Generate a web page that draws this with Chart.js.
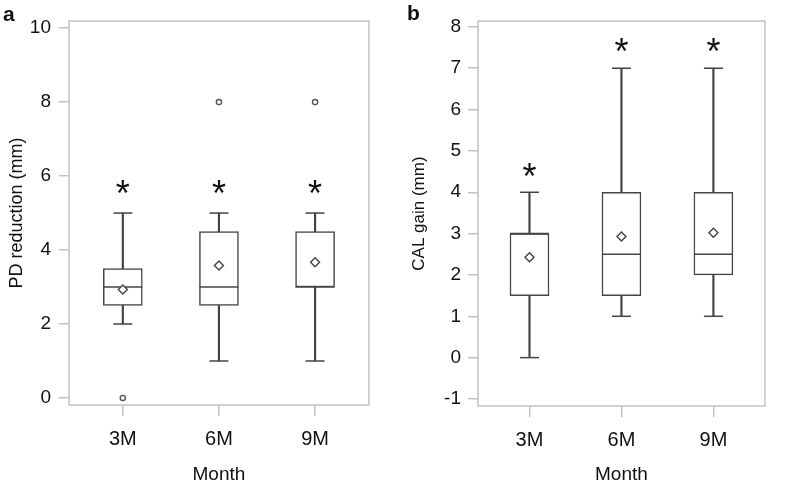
<!DOCTYPE html>
<html>
<head>
<meta charset="utf-8">
<script src="https://cdn.jsdelivr.net/npm/chart.js@4.4.0/dist/chart.umd.min.js"></script>
<style>
  html, body { margin: 0; padding: 0; background: #fff; }
  #wrap { position: relative; width: 786px; height: 484px; overflow: hidden; background: #fff; }
  .panel { position: absolute; top: 0; }
  #ca { left: 0; width: 390px; height: 484px; }
  #cb { left: 390px; width: 396px; height: 484px; }
  .lab { position: absolute; font: bold 21px "Liberation Sans", Arial, sans-serif; color: #111; }
</style>
</head>
<body>
<div id="wrap">
  <div class="panel" id="ca"><canvas id="chartA" width="390" height="484"></canvas></div>
  <div class="panel" id="cb"><canvas id="chartB" width="396" height="484"></canvas></div>
  <div class="lab" style="left:3px;top:2px;">a</div>
  <div class="lab" style="left:407px;top:1px;">b</div>
</div>
<script>
// ---- data ----
const categories = ['3M', '6M', '9M'];
const xPositions = [1, 2, 3];

// Panel a: PD reduction (mm)
const pdLow      = [2, 1, 1];
const pdQ1       = [2.5, 2.5, 3];
const pdMedian   = [3, 3, 3];
const pdQ3       = [3.5, 4.5, 4.5];
const pdHigh     = [5, 5, 5];
const pdMean     = [2.93, 3.58, 3.67];
const pdOutliers = [[0], [8], [8]];
const pdStars    = [5.7, 5.7, 5.7];
const pdTicks    = [0, 2, 4, 6, 8, 10];

// Panel b: CAL gain (mm)
const calLow      = [0, 1, 1];
const calQ1       = [1.5, 1.5, 2];
const calMedian   = [3, 2.5, 2.5];
const calQ3       = [3, 4, 4];
const calHigh     = [4, 7, 7];
const calMean     = [2.43, 2.93, 3.02];
const calOutliers = [[], [], []];
const calStars    = [4.55, 7.57, 7.57];
const calTicks    = [-1, 0, 1, 2, 3, 4, 5, 6, 7, 8];

const FONT = '"Liberation Sans", Arial, Helvetica, sans-serif';
const LINE = '#444';

const framePlugin = {
  id: 'frame',
  beforeDatasetsDraw(chart) {
    const {ctx, chartArea: a} = chart;
    ctx.save();
    ctx.strokeStyle = '#c2c2c2';
    ctx.lineWidth = 1.5;
    ctx.strokeRect(a.left, a.top, a.right - a.left, a.bottom - a.top);
    ctx.restore();
  }
};

const starPlugin = {
  id: 'stars',
  afterDatasetsDraw(chart, args, opts) {
    const {ctx} = chart;
    const xs = chart.scales.x, ys = chart.scales.y;
    ctx.save();
    ctx.fillStyle = '#111';
    ctx.font = '36px ' + FONT;
    ctx.textAlign = 'center';
    ctx.textBaseline = 'alphabetic';
    const m = ctx.measureText('*');
    const off = (m.actualBoundingBoxDescent - m.actualBoundingBoxAscent) / 2;
    opts.values.forEach((v, i) => {
      const px = xs.getPixelForValue(xPositions[i]);
      const py = ys.getPixelForValue(v);
      ctx.fillText('*', px, py - off);
    });
    ctx.restore();
  }
};

function makeChart(id, cfg) {
  const pts = (arr) => arr.map((v, i) => ({x: xPositions[i], y: v}));
  const ranges = (lo, hi) => lo.map((v, i) => ({x: xPositions[i], y: [v, hi[i]]}));
  const outl = [];
  cfg.outliers.forEach((list, i) => list.forEach(v => outl.push({x: xPositions[i], y: v})));
  const caps = pts(cfg.low).concat(pts(cfg.high));

  return new Chart(document.getElementById(id), {
    type: 'bar',
    data: {
      datasets: [
        { type: 'line', label: 'outliers', data: outl, showLine: false, pointStyle: 'circle',
          pointRadius: 2.6, pointBackgroundColor: '#fff', pointBorderColor: '#555', pointBorderWidth: 1.4, order: 0 },
        { type: 'line', label: 'mean', data: pts(cfg.mean), showLine: false, pointStyle: 'rectRot',
          pointRadius: 4.5, pointBackgroundColor: '#fff', pointBorderColor: LINE, pointBorderWidth: 1.4, order: 0 },
        { type: 'line', label: 'median', data: pts(cfg.median), showLine: false, pointStyle: 'line',
          pointRadius: 19.5, pointBorderColor: LINE, pointBorderWidth: 1.6, order: 1 },
        { type: 'bar', label: 'box', data: ranges(cfg.q1, cfg.q3), backgroundColor: '#fff',
          borderColor: LINE, borderWidth: 1.5, borderSkipped: false, barThickness: 39, grouped: false, order: 2 },
        { type: 'line', label: 'caps', data: caps, showLine: false, pointStyle: 'line',
          pointRadius: 9.5, pointBorderColor: LINE, pointBorderWidth: 1.5, order: 3 },
        { type: 'bar', label: 'whisker', data: ranges(cfg.low, cfg.high), backgroundColor: LINE,
          borderWidth: 0, barThickness: 1.5, grouped: false, order: 4 }
      ]
    },
    options: {
      responsive: false,
      animation: false,
      events: [],
      layout: { padding: cfg.padding },
      plugins: {
        legend: { display: false },
        tooltip: { enabled: false },
        stars: { values: cfg.stars }
      },
      scales: {
        x: {
          type: 'linear', min: 0.44, max: 3.56, offset: false,
          afterBuildTicks: (s) => { s.ticks = xPositions.map(v => ({value: v})); },
          afterFit: (s) => { s.height = cfg.xHeight; },
          grid: { display: true, offset: false, drawOnChartArea: false, drawTicks: true, tickLength: 11, color: '#c2c2c2', lineWidth: 1.5 },
          border: { display: false },
          ticks: { color: '#111', font: { family: FONT, size: 20 }, padding: 11,
                   callback: (v) => categories[xPositions.indexOf(v)] },
          title: { display: true, text: 'Month', color: '#111', font: { family: FONT, size: 19, lineHeight: 1 },
                   padding: { top: 0, bottom: 0 } }
        },
        y: {
          type: 'linear', min: cfg.yMin, max: cfg.yMax,
          afterBuildTicks: (s) => { s.ticks = cfg.ticks.map(v => ({value: v})); },
          afterFit: (s) => { s.width = cfg.yWidth; },
          grid: { display: true, drawOnChartArea: false, drawTicks: true, tickLength: 10, color: '#c2c2c2', lineWidth: 1.5 },
          border: { display: false },
          ticks: { color: '#111', font: { family: FONT, size: 19 }, padding: cfg.yPad },
          title: { display: true, text: cfg.yTitle, color: '#111', font: { family: FONT, size: cfg.yTitleSize, lineHeight: 1 },
                   padding: { top: cfg.yTitlePad, bottom: 0 } }
        }
      }
    },
    plugins: [framePlugin, starPlugin]
  });
}

makeChart('chartA', {
  low: pdLow, q1: pdQ1, median: pdMedian, q3: pdQ3, high: pdHigh, mean: pdMean,
  outliers: pdOutliers, stars: pdStars, ticks: pdTicks,
  yMin: -0.19, yMax: 10.19, yTitle: 'PD reduction (mm)', yTitleSize: 18, yTitlePad: 8,
  yWidth: 69, xHeight: 79, yPad: 8, padding: { left: 0, right: 18, top: 15, bottom: 0 }
});

makeChart('chartB', {
  low: calLow, q1: calQ1, median: calMedian, q3: calQ3, high: calHigh, mean: calMean,
  outliers: calOutliers, stars: calStars, ticks: calTicks,
  yMin: -1.17, yMax: 8.14, yTitle: 'CAL gain (mm)', yTitleSize: 17, yTitlePad: 21,
  yWidth: 88, xHeight: 78, yPad: 7, padding: { left: 0, right: 4, top: 14, bottom: 0 }
});
</script>
</body>
</html>
